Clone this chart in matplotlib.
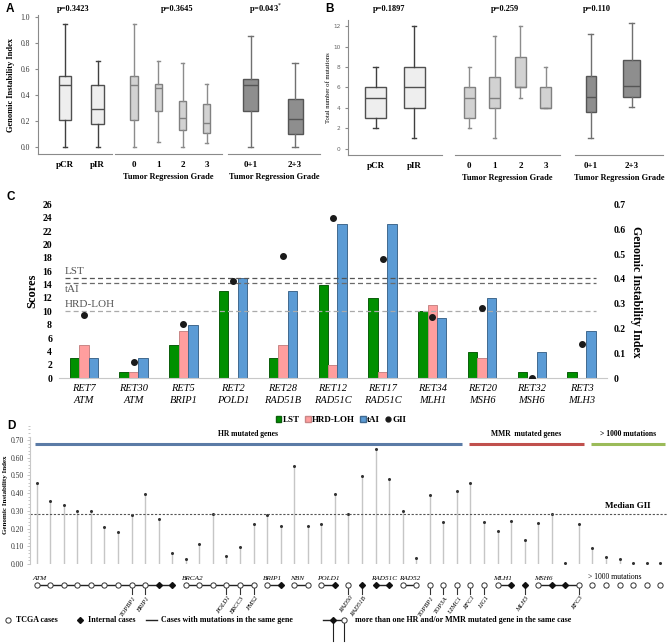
import numpy as np
import matplotlib.pyplot as plt
from matplotlib.patches import Patch
from matplotlib.lines import Line2D
from matplotlib.ticker import FuncFormatter, MultipleLocator

plt.rcParams["font.family"] = ["Liberation Serif", "DejaVu Serif"]

W, H = 669, 643

# ---------------- data ----------------
# panel A: GII box stats (whislo, q1, med, q3, whishi)
a_resp_labels = ["pCR", "pIR"]
a_resp_stats = [[0.0, 0.21, 0.475, 0.55, 0.95], [0.0, 0.18, 0.29, 0.475, 0.66]]
a_trg_labels = ["0", "1", "2", "3"]
a_trg_stats = [[0.0, 0.21, 0.475, 0.55, 0.95], [0.035, 0.28, 0.455, 0.483, 0.663],
               [0.0, 0.134, 0.224, 0.357, 0.645], [0.028, 0.105, 0.183, 0.334, 0.488]]
a_pair_labels = ["0+1", "2+3"]
a_pair_stats = [[0.0, 0.28, 0.476, 0.527, 0.856], [0.0, 0.098, 0.216, 0.373, 0.645]]
a_pvals = ["p=0.3423", "p=0.3645", "p=0.043$^{*}$"]

# panel B: total number of mutations
b_resp_stats = [[2, 3, 5, 6, 8], [1, 4, 6, 8, 12]]
b_trg_stats = [[2, 3, 5, 6, 8], [1, 4, 5, 7, 11], [5, 6, 6, 9, 12], [4, 4, 4, 6, 8]]
b_pair_stats = [[1, 3.55, 5.1, 7.1, 11.2], [4.05, 5.05, 6.1, 8.65, 12.3]]
b_pvals = ["p=0.1897", "p=0.259", "p=0.110"]

# panel C: internal cases
c_cases = ["RET7", "RET30", "RET5", "RET2", "RET28", "RET12", "RET17", "RET34", "RET20", "RET32", "RET3"]
c_genes = ["ATM", "ATM", "BRIP1", "POLD1", "RAD51B", "RAD51C", "RAD51C", "MLH1", "MSH6", "MSH6", "MLH3"]
c_lst = [3, 1, 5, 13, 3, 14, 12, 10, 4, 1, 1]
c_hrd_loh = [5, 1, 7, 0, 5, 2, 1, 11, 3, 0, 0]
c_tai = [3, 3, 8, 15, 13, 23, 23, 9, 12, 4, 7]
c_gii = [0.255, 0.064, 0.217, 0.393, 0.494, 0.646, 0.479, 0.245, 0.282, 0.0, 0.137]
c_thr_lst, c_thr_tai, c_thr_hrd = 15, 14.2, 10

# panel D: GII per case
d_gii = [0.456, 0.356, 0.333, 0.299, 0.299, 0.207, 0.183, 0.277, 0.394, 0.255, 0.062,
         0.027, 0.111, 0.281, 0.045, 0.098, 0.228, 0.277, 0.216, 0.554, 0.216, 0.224,
         0.395, 0.284, 0.496, 0.650, 0.482, 0.299, 0.032, 0.390, 0.239, 0.412, 0.459,
         0.237, 0.186, 0.245, 0.136, 0.230, 0.281, 0.003, 0.224, 0.093, 0.038, 0.027,
         0.003, 0.003, 0.003]
d_internal = [9, 10, 18, 22, 24, 25, 26, 35, 36, 38, 39]
d_groups = [("ATM", 0, 10), ("BRCA2", 11, 16), ("BRIP1", 17, 18), ("NBN", 19, 20),
            ("POLD1", 21, 22), ("RAD51C", 25, 26), ("RAD52", 27, 28), ("MLH1", 34, 35),
            ("MSH6", 37, 40)]
d_extra = {7: "TOPBP1", 8: "BRIP1", 14: "POLD1", 15: "BRCC3", 16: "PMS2", 23: "RAD50",
           24: "RAD51B", 29: "TOPBP1", 30: "TOP3A", 31: "UIMC1", 32: "RFC1", 33: "LIG1",
           36: "MLH3", 40: "RFC3"}
d_sections = [("HR mutated genes", 0, 31, "#5b7ba6"), ("MMR  mutated genes", 32, 40, "#c0504d"),
              ("> 1000 mutations", 41, 46, "#9bbb59")]
d_median = 0.28


def rect(x0, y0, x1, y1):
    return [x0 / W, 1 - y1 / H, (x1 - x0) / W, (y1 - y0) / H]


def boxes(ax, stats, widths, face, edge, wcol):
    items = [dict(whislo=s[0], q1=s[1], med=s[2], q3=s[3], whishi=s[4]) for s in stats]
    ax.bxp(items, positions=range(len(items)), widths=widths, patch_artist=True,
           showfliers=False, capwidths=0.12,
           boxprops=dict(facecolor=face, edgecolor=edge, linewidth=1.0),
           medianprops=dict(color=edge, linewidth=1.0),
           whiskerprops=dict(color=wcol, linewidth=1.0),
           capprops=dict(color=wcol, linewidth=1.0))


fig = plt.figure(figsize=(W / 100, H / 100), dpi=100)

# ---------------- panels A and B ----------------
def box_panel(specs, ylim, left_axis_fmt, ptop_px):
    axes = []
    for i, (r, xl, labels, stats, widths, face, edge, wcol, ptxt, pfrac) in enumerate(specs):
        ax = fig.add_axes(rect(*r))
        boxes(ax, stats, widths, face, edge, wcol)
        ax.set_xlim(*xl)
        ax.set_ylim(*ylim)
        ax.set_xticks(range(len(labels)))
        ax.set_xticklabels(labels, fontsize=6.5, fontweight="bold")
        ax.tick_params(axis="x", length=0, pad=5)
        for s in ["top", "right"]:
            ax.spines[s].set_visible(False)
        ax.spines["bottom"].set_color("#8a8a8a")
        if i == 0:
            ax.spines["left"].set_color("#8a8a8a")
            left_axis_fmt(ax)
        else:
            ax.spines["left"].set_visible(False)
            ax.set_yticks([])
        if i > 0:
            ax.set_xlabel("Tumor Regression Grade", fontsize=6, fontweight="bold", labelpad=3)
        ax.text(pfrac, 1 + (r[1] - ptop_px) / (r[3] - r[1]), ptxt, transform=ax.transAxes,
                ha="center", va="center", fontsize=6, fontweight="bold")
        axes.append(ax)
    return axes


def fmt_a(ax):
    ax.set_yticks(np.arange(0, 1.01, 0.2))
    ax.yaxis.set_major_formatter(FuncFormatter(lambda v, _: f"{v:.1f}"))
    ax.tick_params(axis="y", labelsize=5.5, colors="#8a8a8a", labelcolor="#333333", length=2, width=0.8)
    ax.set_ylabel("Genomic Instability Index", fontsize=6, fontweight="bold", labelpad=4)


def fmt_b(ax):
    ax.set_yticks(np.arange(0, 13, 2))
    ax.tick_params(axis="y", labelsize=4.2, colors="#8a8a8a", labelcolor="#666666", length=2, width=0.8)
    for t in ax.get_yticklabels():
        t.set_family("DejaVu Sans")
    ax.set_ylabel("Total number of mutations", fontsize=4.8, labelpad=2)


g1 = ("#eeeeee", "#505050", "#404040")
g2 = ("#d2d2d2", "#808080", "#8c8c8c")
g3 = ("#8e8e8e", "#555555", "#707070")

box_panel([
    ((37.7, 15, 111.7, 154.3), (-0.835, 1.43), a_resp_labels, a_resp_stats, 0.38, *g1, a_pvals[0], 0.48),
    ((115, 15, 221.7, 154.3), (-0.79, 3.62), a_trg_labels, a_trg_stats, 0.3, *g2, a_pvals[1], 0.58),
    ((228.3, 15, 320, 154.3), (-0.506, 1.56), a_pair_labels, a_pair_stats, 0.34, *g3, a_pvals[2], 0.41),
], (-0.056, 1.018), fmt_a, 9)

box_panel([
    ((348.3, 20, 441.7, 155), (-0.715, 1.72), a_resp_labels, b_resp_stats, 0.55, *g1, b_pvals[0], 0.436),
    ((455, 20, 560, 155), (-0.56, 3.55), a_trg_labels, b_trg_stats, 0.43, *g2, b_pvals[1], 0.476),
    ((575, 20, 663.3, 155), (-0.38, 1.77), a_pair_labels, b_pair_stats, [0.24, 0.4], *g3, b_pvals[2], 0.25),
], (-0.62, 12.6), fmt_b, 9)

# ---------------- panel C ----------------
axc = fig.add_axes(rect(59, 204.3, 606.5, 378.3))
x = np.arange(len(c_cases))
bw = 0.19
axc.bar(x - bw, c_lst, bw, color="#009000", edgecolor="#0b5e0b", linewidth=0.7, label="LST")
axc.bar(x, c_hrd_loh, bw, color="#ff9e9e", edgecolor="#c98686", linewidth=0.7, label="HRD-LOH")
axc.bar(x + bw, c_tai, bw, color="#5b9bd5", edgecolor="#41698f", linewidth=0.7, label="tAI")
axc.set_xlim(-0.5, len(c_cases) - 0.5)
axc.set_ylim(0, 26)
axc.set_yticks(range(0, 27, 2))
axc.tick_params(axis="y", length=0, labelsize=7, pad=5)
for t in axc.get_yticklabels():
    t.set_fontweight("bold")
axc.set_xticks(x)
axc.set_xticklabels([f"{c}\n{g}" for c, g in zip(c_cases, c_genes)], fontsize=7.5,
                    fontstyle="italic", linespacing=1.5)
axc.tick_params(axis="x", length=0, pad=4)
for s in ["top", "right", "left"]:
    axc.spines[s].set_visible(False)
axc.spines["bottom"].set_color("#c8c8c8")
axc.set_ylabel("Scores", fontsize=9, fontweight="bold", labelpad=3)

for thr, col, lab, va, dy in [(c_thr_lst, "#555555", "LST", "bottom", 0.3),
                              (c_thr_tai, "#6a6a6a", "tAI", "top", -0.3),
                              (c_thr_hrd, "#aaaaaa", "HRD-LOH", "bottom", 0.3)]:
    axc.axhline(thr, xmin=0.011, xmax=0.981, color=col, ls=(0, (4, 2.5)), lw=0.9)
    axc.text(-0.38, thr + dy, lab, fontsize=8, color="#555555", va=va, ha="left")

axr = axc.twinx()
axr.plot(x, c_gii, "o", color="#1a1a1a", ms=4, label="GII")
axr.set_ylim(0, 0.7)
axr.set_yticks(np.arange(0, 0.71, 0.1))
axr.yaxis.set_major_formatter(FuncFormatter(lambda v, _: "0" if abs(v) < 1e-9 else f"{v:.1f}"))
axr.tick_params(axis="y", length=0, labelsize=7, pad=5)
for t in axr.get_yticklabels():
    t.set_fontweight("bold")
for s in ["top", "right", "left", "bottom"]:
    axr.spines[s].set_visible(False)
axr.set_ylabel("Genomic Instability Index", fontsize=8.5, fontweight="bold", rotation=270, labelpad=12)

handles = [Patch(facecolor="#009000", edgecolor="#0b5e0b", label="LST"),
           Patch(facecolor="#ff9e9e", edgecolor="#c98686", label="HRD-LOH"),
           Patch(facecolor="#5b9bd5", edgecolor="#41698f", label="tAI"),
           Line2D([], [], ls="", marker="o", color="#1a1a1a", ms=3.5, label="GII")]
fig.legend(handles=handles, loc="center", bbox_to_anchor=(341 / W, 1 - 420 / H), ncol=4,
           frameon=False, handlelength=0.6, handleheight=0.6, handletextpad=0.15,
           columnspacing=0.6, prop=dict(size=6.5, weight="bold"))

# ---------------- panel D ----------------
axd = fig.add_axes(rect(29.9, 425, 667, 564))
n = len(d_gii)
xd = np.arange(n)
axd.vlines(xd, 0, d_gii, color="#c6c6c6", lw=1.0)
axd.plot(xd, d_gii, "o", color="#333333", ms=1.2)
axd.set_xlim(-0.5, n - 0.5)
axd.set_ylim(0, 0.785)
axd.set_yticks(np.arange(0, 0.71, 0.1))
axd.yaxis.set_major_formatter(FuncFormatter(lambda v, _: f"{v:.2f}"))
axd.yaxis.set_minor_locator(MultipleLocator(0.02))
axd.tick_params(axis="y", which="both", colors="#bbbbbb", labelcolor="#333333", labelsize=5.5,
                length=2, width=0.6, pad=2)
axd.tick_params(axis="y", which="minor", length=1.2)
axd.set_xticks([])
for s in ["top", "right", "bottom"]:
    axd.spines[s].set_visible(False)
axd.spines["left"].set_color("#c8c8c8")
axd.spines["left"].set_bounds(0, 0.72)
axd.set_ylabel("Genomic Instability Index", fontsize=5, fontweight="bold", labelpad=2)
axd.axhline(d_median, color="#555555", ls=(0, (2, 1.5)), lw=0.8)
axd.text(43.6, 0.325, "Median GII", fontsize=6.5, fontweight="bold", ha="center", va="center")

for name, i0, i1, col in d_sections:
    a, b = i0 - 0.13, i1 + 0.37
    axd.plot([a, b], [0.68, 0.68], color=col, lw=2.2, solid_capstyle="butt")
    axd.text((a + b) / 2, 0.735, name, fontsize=5.5, fontweight="bold", ha="center", va="center")

# case row below the axis
row_y = -0.119
stem_y = -0.172
for name, i0, i1 in d_groups:
    axd.plot([i0, i1], [row_y, row_y], color="#222222", lw=1.0, clip_on=False, zorder=3)
    axd.text(i0 - 0.3, row_y + 0.022, name, fontsize=5.2, fontstyle="italic", ha="left",
             va="bottom", clip_on=False)
axd.text(41 - 0.3, row_y + 0.022, "> 1000 mutations", fontsize=5.5, ha="left", va="bottom")
for i, g in d_extra.items():
    axd.plot([i, i], [row_y, stem_y], color="#333333", lw=0.8, clip_on=False, zorder=3)
    axd.text(i + 0.1, stem_y - 0.004, g, fontsize=4.8, fontstyle="italic", rotation=55,
             ha="right", va="top", rotation_mode="anchor", clip_on=False)
tcga = [i for i in range(n) if i not in d_internal]
axd.plot(tcga, [row_y] * len(tcga), "o", ms=3.8, mfc="white", mec="#333333", mew=0.7,
         ls="", clip_on=False, zorder=4)
axd.plot(d_internal, [row_y] * len(d_internal), "D", ms=3.0, color="#111111",
         ls="", clip_on=False, zorder=4)

# legend row for D
axl = fig.add_axes(rect(0, 605, W, H))
axl.set_xlim(0, W)
axl.set_ylim(H, 605)
axl.axis("off")
axl.patch.set_visible(False)
ly = 620
axl.plot([8], [ly], "o", ms=3.8, mfc="white", mec="#333333", mew=0.7)
axl.text(16, ly, "TCGA cases", fontsize=5.8, fontweight="bold", va="center")
axl.plot([80], [ly], "D", ms=3.0, color="#111111")
axl.text(88, ly, "Internal cases", fontsize=5.8, fontweight="bold", va="center")
axl.plot([146, 157], [ly, ly], color="#222222", lw=1.0)
axl.text(161, ly, "Cases with mutations in the same gene", fontsize=5.8, fontweight="bold", va="center")
axl.plot([323, 344], [ly, ly], color="#222222", lw=1.0)
axl.plot([333, 333], [ly, 641], color="#222222", lw=0.8)
axl.plot([344, 344], [ly, 641], color="#222222", lw=0.8)
axl.plot([333], [ly], "D", ms=3.0, color="#111111")
axl.plot([344], [ly], "o", ms=3.8, mfc="white", mec="#333333", mew=0.7)
axl.text(355, ly, "more than one HR and/or MMR mutated gene in the same case", fontsize=5.8,
         fontweight="bold", va="center")

# panel letters
for letter, px, py in [("A", 10, 9), ("B", 329, 9), ("C", 11, 197), ("D", 11, 426)]:
    fig.text(px / W, 1 - py / H, letter, fontsize=8.5, fontweight="bold", family="Liberation Sans",
             ha="center", va="center")

fig.savefig("out.png", dpi=100)
